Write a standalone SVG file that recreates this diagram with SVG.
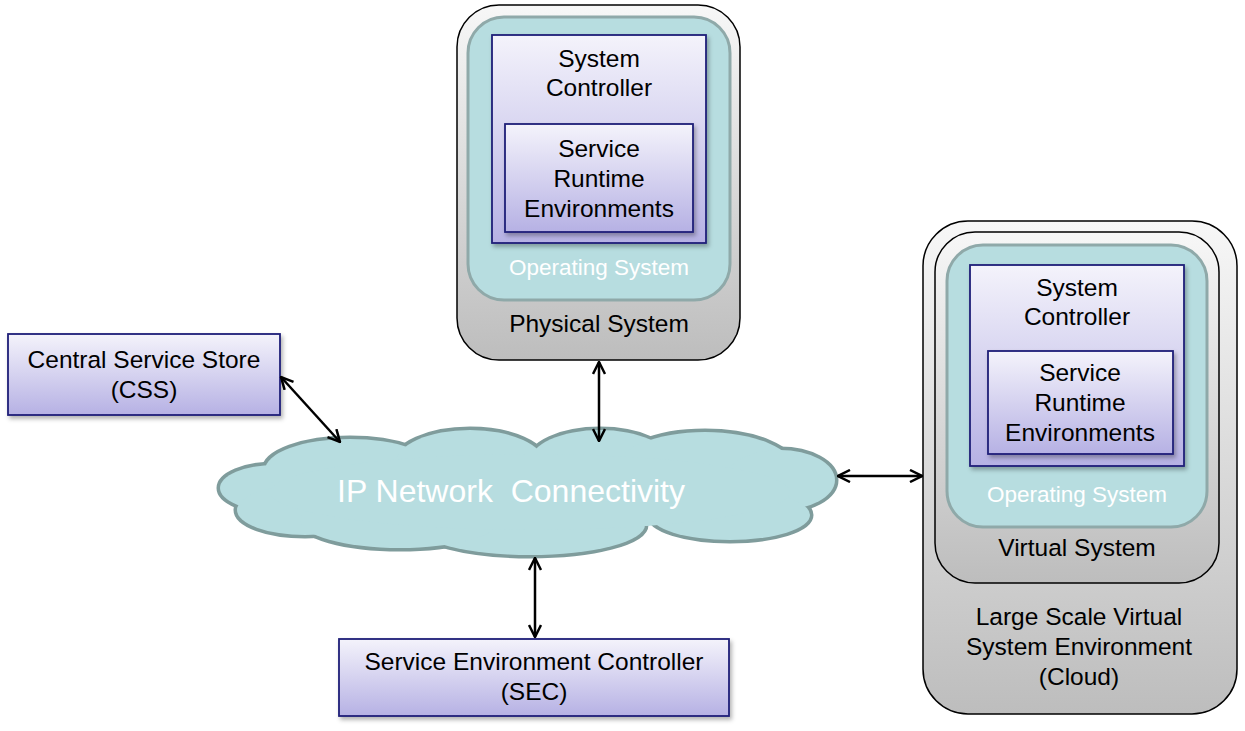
<svg xmlns="http://www.w3.org/2000/svg" width="1245" height="731" viewBox="0 0 1245 731">
<defs>
<linearGradient id="gGray" x1="0" y1="0" x2="0" y2="1"><stop offset="0" stop-color="#f7f7f7"/><stop offset="1" stop-color="#bdbdbd"/></linearGradient>
<linearGradient id="gLav" x1="0" y1="0" x2="0" y2="1"><stop offset="0" stop-color="#f4f3fb"/><stop offset="1" stop-color="#b6b1e4"/></linearGradient>
<filter id="sh" x="-10%" y="-10%" width="130%" height="130%"><feDropShadow dx="2" dy="3" stdDeviation="2" flood-color="#000" flood-opacity="0.3"/></filter>
<marker id="arr" viewBox="0 0 14 14" refX="13" refY="7" markerWidth="14" markerHeight="14" markerUnits="userSpaceOnUse" orient="auto-start-reverse"><path d="M1,1 L13,7 L1,13" fill="none" stroke="#000" stroke-width="2.5"/></marker>
<style>
.outer{fill:url(#gGray);stroke:#000;stroke-width:1.5}
.os{fill:#b7dde0;stroke:#8fa9a9;stroke-width:3}
.lav{fill:url(#gLav);stroke:#1f1f78;stroke-width:1.8;filter:url(#sh)}
.t{font-family:"Liberation Sans",Arial,sans-serif;font-size:24.5px;fill:#000;text-anchor:middle}
.w{font-family:"Liberation Sans",Arial,sans-serif;font-size:22.5px;fill:#fff;text-anchor:middle}
.cl{fill:#b7dde0}
.cls{fill:none;stroke:#7f9c9c;stroke-width:7}
.con{fill:none;stroke:#000;stroke-width:2.5;marker-start:url(#arr);marker-end:url(#arr)}
</style>
</defs>
<rect width="1245" height="731" fill="#fff"/>

<g id="physical">
<rect class="outer" x="457" y="5" width="283" height="355" rx="42"/>
<rect class="os" x="468" y="17" width="262" height="283" rx="36"/>
<rect class="lav" x="492" y="35" width="214" height="208"/>
<rect class="lav" x="505" y="124" width="188" height="108"/>
<text class="t" x="599" y="67">System</text>
<text class="t" x="599" y="96">Controller</text>
<text class="t" x="599" y="157">Service</text>
<text class="t" x="599" y="187">Runtime</text>
<text class="t" x="599" y="217">Environments</text>
<text class="w" x="599" y="275">Operating System</text>
<text class="t" x="599" y="332">Physical System</text>
</g>

<g id="cloudenv">
<rect class="outer" x="923" y="221" width="314" height="493" rx="45"/>
<rect class="outer" x="935" y="232" width="284" height="351" rx="40"/>
<rect class="os" x="947" y="245" width="260" height="282" rx="36"/>
<rect class="lav" x="970" y="265" width="214" height="201"/>
<rect class="lav" x="988" y="351" width="185" height="103"/>
<text class="t" x="1077" y="296">System</text>
<text class="t" x="1077" y="325">Controller</text>
<text class="t" x="1080" y="381">Service</text>
<text class="t" x="1080" y="411">Runtime</text>
<text class="t" x="1080" y="441">Environments</text>
<text class="w" x="1077" y="502">Operating System</text>
<text class="t" x="1077" y="556">Virtual System</text>
<text class="t" x="1079" y="625">Large Scale Virtual</text>
<text class="t" x="1079" y="655">System Environment</text>
<text class="t" x="1079" y="685">(Cloud)</text>
</g>

<g id="css">
<rect class="lav" x="8" y="334" width="272" height="81"/>
<text class="t" x="144" y="368">Central Service Store</text>
<text class="t" x="144" y="398">(CSS)</text>
</g>

<g id="sec">
<rect class="lav" x="339" y="639" width="390" height="77"/>
<text class="t" x="534" y="670">Service Environment Controller</text>
<text class="t" x="534" y="700">(SEC)</text>
</g>

<g id="network">
<g class="cls">
<ellipse cx="275" cy="488" rx="55" ry="23"/>
<ellipse cx="305" cy="510" rx="68" ry="25"/>
<ellipse cx="350" cy="470" rx="85" ry="31"/>
<ellipse cx="470" cy="464" rx="75" ry="34"/>
<ellipse cx="600" cy="462" rx="70" ry="32"/>
<ellipse cx="705" cy="470" rx="90" ry="38"/>
<ellipse cx="780" cy="480" rx="55" ry="30"/>
<ellipse cx="730" cy="515" rx="80" ry="25"/>
<ellipse cx="530" cy="525" rx="115" ry="30"/>
<ellipse cx="400" cy="520" rx="100" ry="28"/>
</g>
<g class="cl">
<ellipse cx="275" cy="488" rx="55" ry="23"/>
<ellipse cx="305" cy="510" rx="68" ry="25"/>
<ellipse cx="350" cy="470" rx="85" ry="31"/>
<ellipse cx="470" cy="464" rx="75" ry="34"/>
<ellipse cx="600" cy="462" rx="70" ry="32"/>
<ellipse cx="705" cy="470" rx="90" ry="38"/>
<ellipse cx="780" cy="480" rx="55" ry="30"/>
<ellipse cx="730" cy="515" rx="80" ry="25"/>
<ellipse cx="530" cy="525" rx="115" ry="30"/>
<ellipse cx="400" cy="520" rx="100" ry="28"/>
<ellipse cx="530" cy="492" rx="260" ry="38"/>
</g>
<text x="511" y="502" font-family="Liberation Sans, Arial, sans-serif" font-size="32" fill="#fff" text-anchor="middle" xml:space="preserve">IP Network  Connectivity</text>
</g>

<g id="connectors">
<line class="con" x1="281" y1="377" x2="340" y2="442"/>
<line class="con" x1="599" y1="362" x2="599" y2="441"/>
<line class="con" x1="838" y1="476" x2="922" y2="476"/>
<line class="con" x1="535" y1="558" x2="535" y2="637"/>
</g>
</svg>
